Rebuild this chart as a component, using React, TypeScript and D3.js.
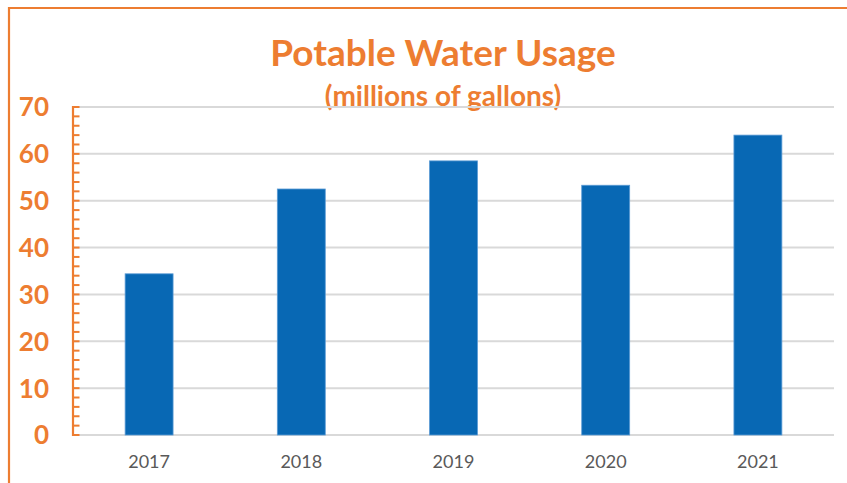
import React from "react";
import * as d3 from "d3";

const years = ["2017", "2018", "2019", "2020", "2021"];
const usage = [34.4, 52.5, 58.5, 53.3, 64.0];
const yTicks = [0, 10, 20, 30, 40, 50, 60, 70];
const minorTicks = d3.range(0, 71, 2);

const ORANGE = "#ED7D31";
const BLUE = "#0868B4";
const W = 847;
const H = 483;
const FONT = "Lato, 'Open Sans', sans-serif";

export default function App() {
  const left = 73;
  const right = 834;
  const top = 107;
  const bottom = 435;

  const x = d3.scaleBand<string>().domain(years).range([left, right]).paddingInner(0.685).paddingOuter(0.3425);
  const y = d3.scaleLinear().domain([0, 70]).range([bottom, top]);

  return (
    <svg width={W} height={H} style={{ position: "absolute", left: 0, top: 0, background: "#fff" }}>
      <rect x={0} y={0} width={W} height={H} fill="#fff" />
      {/* outer border (clipped on right/bottom) */}
      <path d={`M9,${H + 5} V8 H${W + 5}`} fill="none" stroke={ORANGE} strokeWidth={2.2} />

      {/* title */}
      <text x={443} y={66} textAnchor="middle" fontFamily={FONT} fontWeight={700} fontSize={37} fill={ORANGE}>
        Potable Water Usage
      </text>
      <text x={443} y={106} textAnchor="middle" fontFamily={FONT} fontWeight={700} fontSize={28} fill={ORANGE}>
        (millions of gallons)
      </text>

      {/* gridlines */}
      {yTicks.map((t) => (
        <line key={"g" + t} x1={left} x2={right} y1={y(t)} y2={y(t)} stroke="#D9D9D9" strokeWidth={2} />
      ))}

      {/* bars */}
      {years.map((yr, i) => (
        <rect
          key={yr}
          x={x(yr)}
          y={y(usage[i])}
          width={x.bandwidth()}
          height={bottom - y(usage[i])}
          fill={BLUE}
          stroke="#5B9BD5"
          strokeWidth={0.8}
        />
      ))}

      {/* y axis */}
      <line x1={left} x2={left} y1={top - 1} y2={bottom + 1} stroke={ORANGE} strokeWidth={2.2} />
      {minorTicks.map((t) => (
        <line key={"t" + t} x1={left} x2={left + 6.5} y1={y(t)} y2={y(t)} stroke={ORANGE} strokeWidth={2} />
      ))}
      {yTicks.map((t) => (
        <text
          key={"l" + t}
          x={49}
          y={y(t)}
          dy="0.36em"
          textAnchor="end"
          fontFamily={FONT}
          fontWeight={700}
          fontSize={26}
          fill={ORANGE}
        >
          {t}
        </text>
      ))}

      {/* x labels */}
      {years.map((yr) => (
        <text
          key={"x" + yr}
          x={(x(yr) as number) + x.bandwidth() / 2}
          y={468}
          textAnchor="middle"
          fontFamily={FONT}
          fontSize={18}
          fill="#595959"
        >
          {yr}
        </text>
      ))}
    </svg>
  );
}
